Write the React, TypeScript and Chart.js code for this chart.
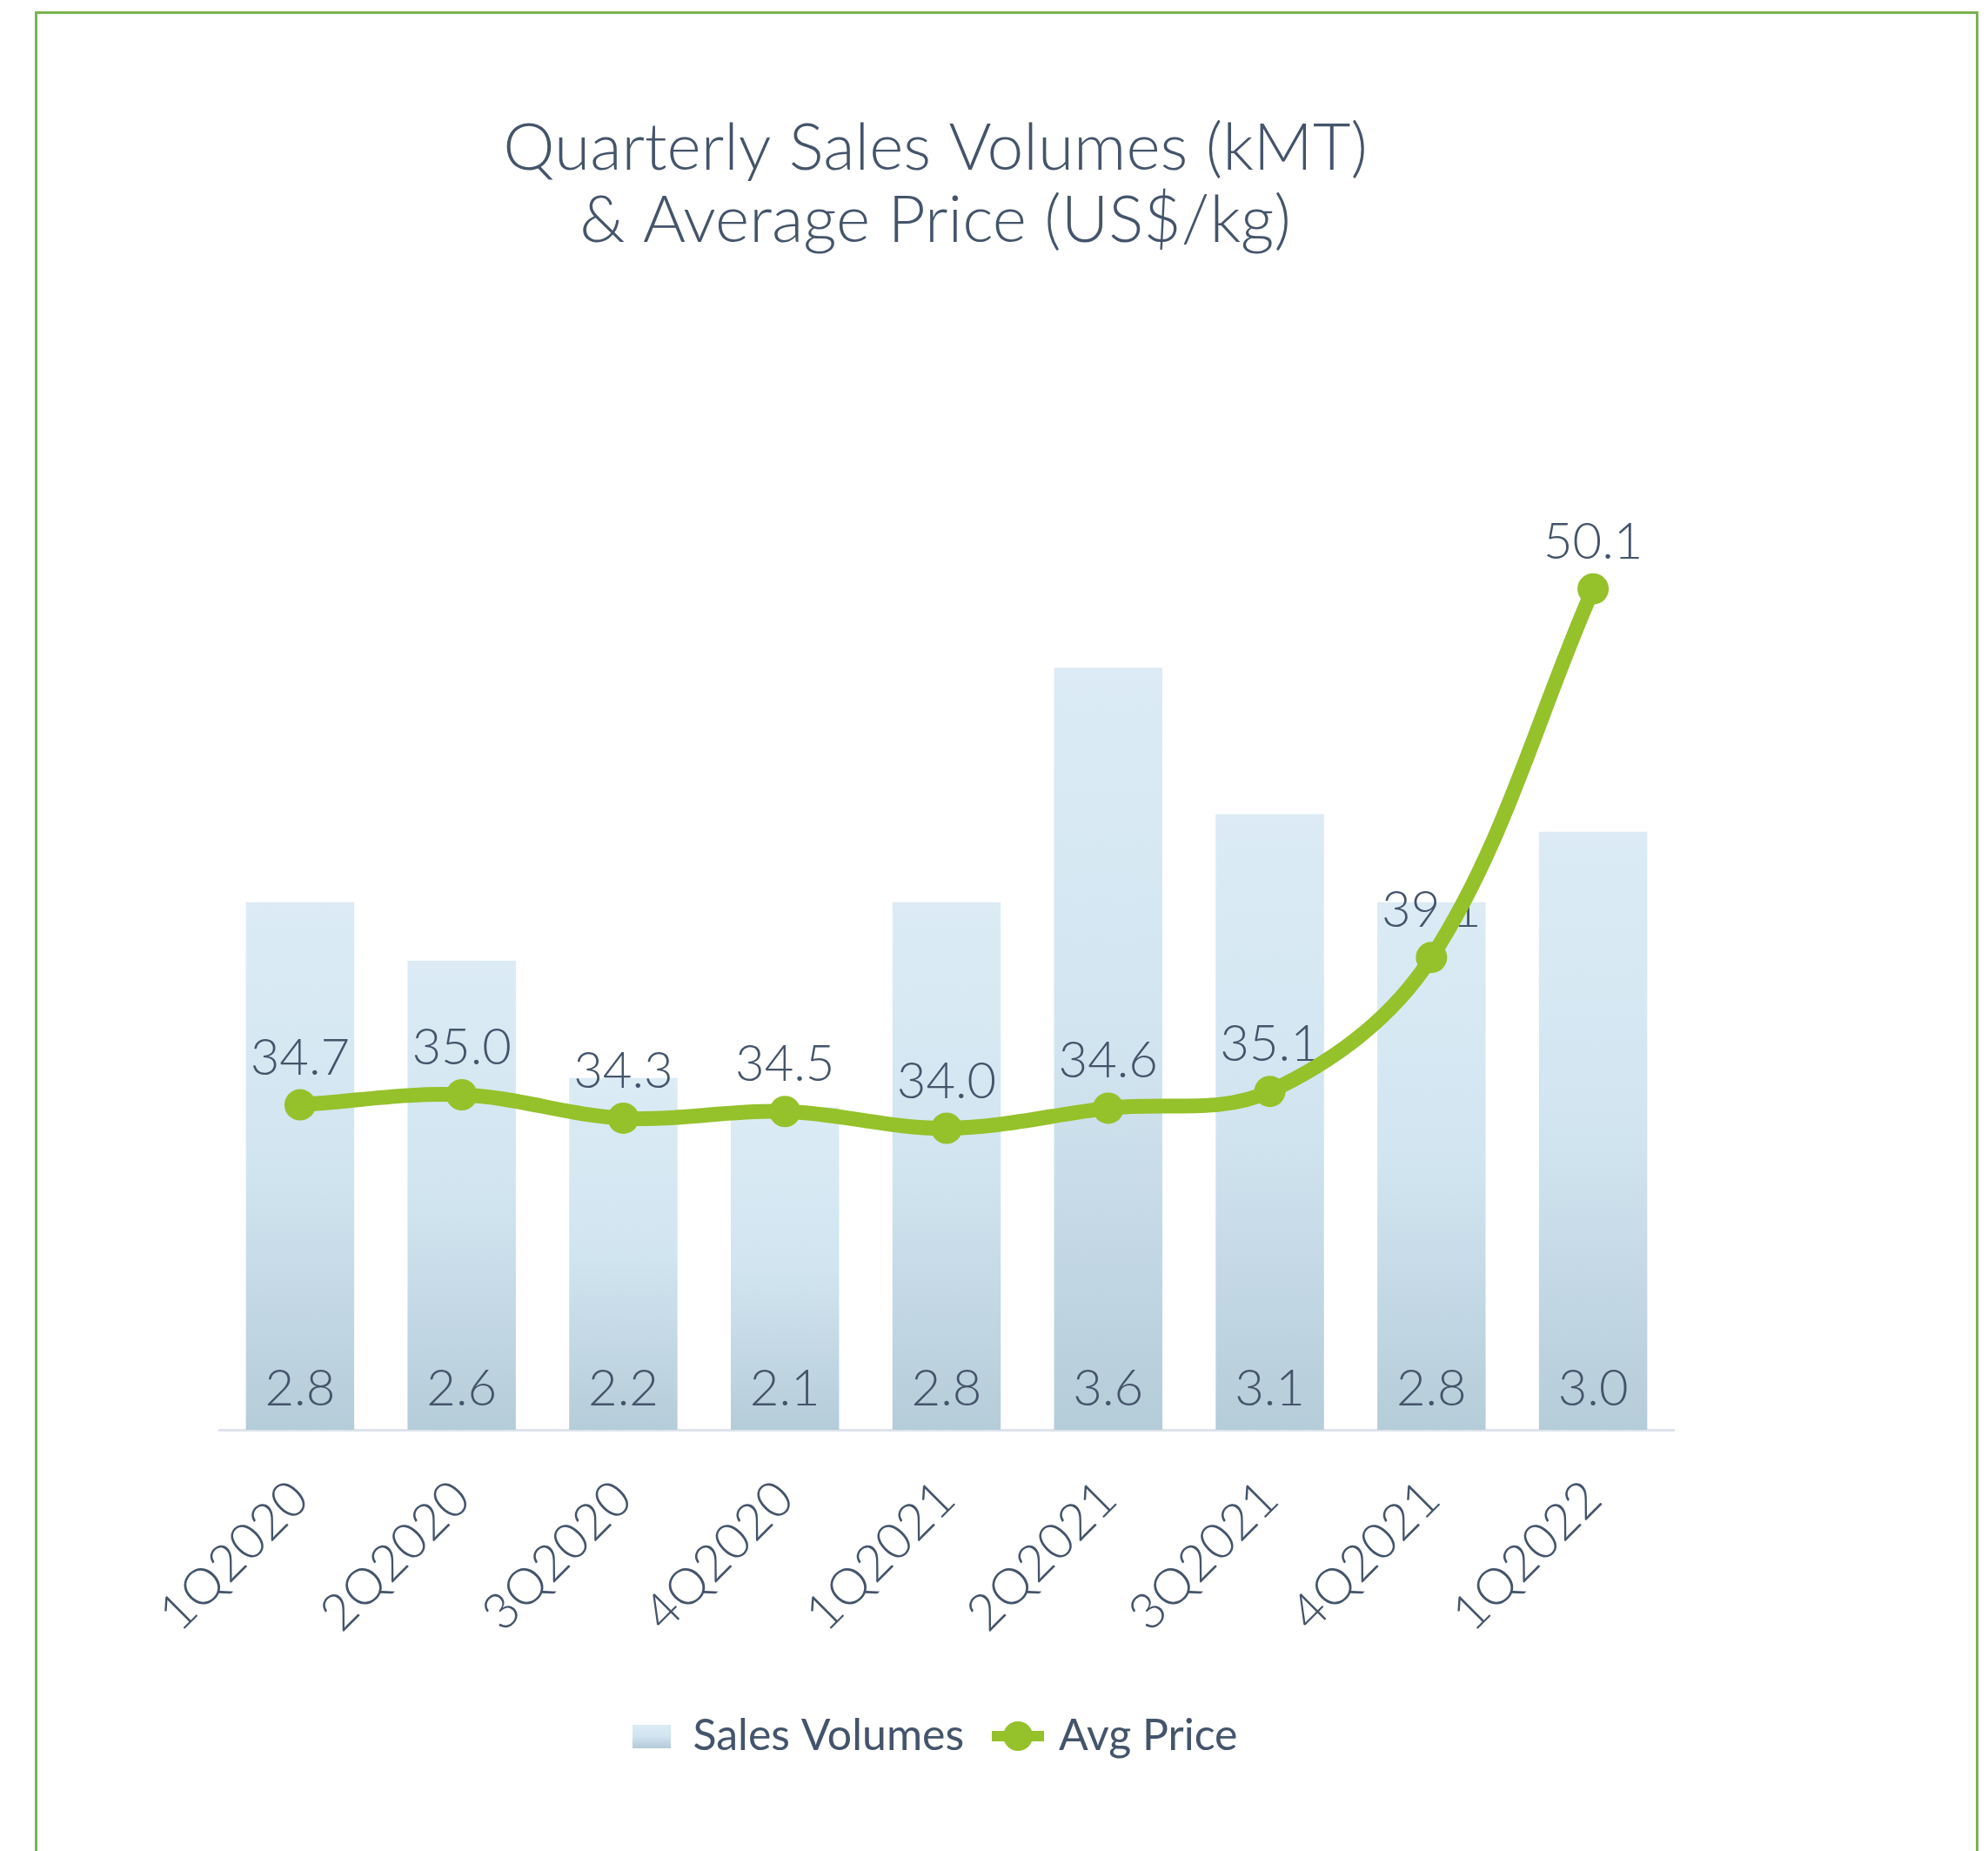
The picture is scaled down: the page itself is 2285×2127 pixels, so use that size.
import React, { useEffect, useRef } from "react";
import { Chart, registerables } from "chart.js";

Chart.register(...registerables);

const categories = ["1Q2020", "2Q2020", "3Q2020", "4Q2020", "1Q2021", "2Q2021", "3Q2021", "4Q2021", "1Q2022"];
const salesVolumes = [2.8, 2.6, 2.2, 2.1, 2.8, 3.6, 3.1, 2.8, 3.04];
const avgPrice = [34.7, 35.0, 34.3, 34.5, 34.0, 34.6, 35.1, 39.1, 50.1];
const titleLines = ["Quarterly Sales Volumes (kMT)", "& Average Price (US$/kg)"];
const legendLabels = ["Sales Volumes", "Avg Price"];

const TEXT = "#44546a";
const GREEN = "#95c12b";
const FONT = "Lato, 'Open Sans', sans-serif";

function barGradient(ctx: CanvasRenderingContext2D, top: number, bottom: number) {
  const g = ctx.createLinearGradient(0, top, 0, bottom);
  g.addColorStop(0, "#dcebf5");
  g.addColorStop(0.5, "#d1e5f0");
  g.addColorStop(1, "#b5ccd9");
  return g;
}

const valueLabels = {
  id: "valueLabels",
  afterDatasetDraw(chart: any, args: any) {
    if (args.index !== 0) return;
    const ctx = chart.ctx;
    const base = chart.scales.y.getPixelForValue(chart.scales.y.min);
    ctx.save();
    ctx.font = `300 58px ${FONT}`;
    ctx.fillStyle = TEXT;
    ctx.textAlign = "center";
    ctx.textBaseline = "alphabetic";
    const barMeta = chart.getDatasetMeta(0);
    barMeta.data.forEach((el: any, i: number) => {
      ctx.fillText(salesVolumes[i].toFixed(1), el.x, base - 28);
    });
    const lineMeta = chart.getDatasetMeta(1);
    lineMeta.data.forEach((pt: any, i: number) => {
      ctx.fillText(avgPrice[i].toFixed(1), pt.x, pt.y - 35);
    });
    ctx.restore();
  },
};

export default function App() {
  const ref = useRef<HTMLCanvasElement | null>(null);

  useEffect(() => {
    const canvas = ref.current;
    if (!canvas) return;

    const barIcon = document.createElement("canvas");
    barIcon.width = 44;
    barIcon.height = 27;
    {
      const c = barIcon.getContext("2d")!;
      c.fillStyle = barGradient(c, 0, 27);
      c.fillRect(0, 0, 44, 27);
    }
    const lineIcon = document.createElement("canvas");
    lineIcon.width = 60;
    lineIcon.height = 38;
    {
      const c = lineIcon.getContext("2d")!;
      c.strokeStyle = GREEN;
      c.lineWidth = 12;
      c.beginPath();
      c.moveTo(0, 19);
      c.lineTo(60, 19);
      c.stroke();
      c.fillStyle = GREEN;
      c.beginPath();
      c.arc(30, 19, 17, 0, Math.PI * 2);
      c.fill();
    }

    const chart = new Chart(canvas, {
      type: "bar",
      data: {
        labels: categories,
        datasets: [
          {
            type: "bar",
            label: legendLabels[0],
            data: salesVolumes,
            yAxisID: "y",
            order: 2,
            borderWidth: 0,
            categoryPercentage: 1,
            barPercentage: 0.67,
            backgroundColor: (c: any) => {
              const ch = c.chart;
              if (!ch.chartArea || c.raw == null) return "#d3e6f1";
              const ys = ch.scales.y;
              return barGradient(ch.ctx, ys.getPixelForValue(c.raw), ys.getPixelForValue(ys.min));
            },
          },
          {
            type: "line",
            label: legendLabels[1],
            data: avgPrice,
            yAxisID: "y1",
            order: 1,
            borderColor: GREEN,
            backgroundColor: GREEN,
            borderWidth: 17,
            tension: 0.35,
            pointRadius: 18,
            pointBorderWidth: 0,
            pointBackgroundColor: GREEN,
            borderCapStyle: "round",
            borderJoinStyle: "round",
          },
        ],
      } as any,
      options: {
        responsive: false,
        animation: false,
        devicePixelRatio: 1,
        layout: { padding: { top: 129, left: 226, right: 361, bottom: 97 } },
        plugins: {
          tooltip: { enabled: false },
          title: {
            display: true,
            text: titleLines,
            color: TEXT,
            font: { family: FONT, size: 75, weight: "300" as any, lineHeight: 1.11 },
            padding: { top: 0, bottom: 0 },
          },
          legend: {
            display: true,
            position: "bottom",
            labels: {
              usePointStyle: true,
              pointStyleWidth: 44,
              padding: 40,
              color: TEXT,
              font: { family: FONT, size: 50, weight: "400" as any },
              generateLabels: () => [
                { text: legendLabels[0], pointStyle: barIcon, fillStyle: "transparent", strokeStyle: "transparent", lineWidth: 0, hidden: false, datasetIndex: 0, fontColor: TEXT },
                { text: legendLabels[1], pointStyle: lineIcon, fillStyle: "transparent", strokeStyle: "transparent", lineWidth: 0, hidden: false, datasetIndex: 1, fontColor: TEXT },
              ] as any,
            },
          },
        },
        scales: {
          x: {
            offset: true,
            grid: { display: false, drawTicks: false },
            border: { display: true, color: "#dde4ec", width: 3 },
            ticks: {
              autoSkip: false,
              minRotation: 45,
              maxRotation: 45,
              padding: 45,
              color: TEXT,
              font: { family: FONT, size: 58, weight: "300" as any },
            },
            afterFit: (s: any) => {
              s.height = 287;
            },
          },
          y: {
            position: "left",
            min: 1,
            max: 5,
            display: true,
            grid: { display: false, drawTicks: false },
            border: { display: false },
            ticks: { display: false },
            afterFit: (s: any) => {
              s.width = 26;
            },
          },
          y1: {
            position: "right",
            min: 25,
            max: 60,
            display: false,
          },
        },
      } as any,
      plugins: [valueLabels],
    });

    return () => chart.destroy();
  }, []);

  return (
    <div style={{ position: "absolute", left: 0, top: 0, width: 2285, height: 2127, background: "#ffffff", overflow: "hidden" }}>
      <canvas ref={ref} width={2285} height={2127} style={{ position: "absolute", left: 0, top: 0, width: 2285, height: 2127 }} />
      <div
        style={{
          position: "absolute",
          left: 40,
          top: 13,
          width: 2234,
          height: 2114,
          boxSizing: "border-box",
          borderTop: "3px solid #78b44f",
          borderLeft: "3px solid #78b44f",
          borderRight: "3px solid #78b44f",
          pointerEvents: "none",
        }}
      />
    </div>
  );
}
